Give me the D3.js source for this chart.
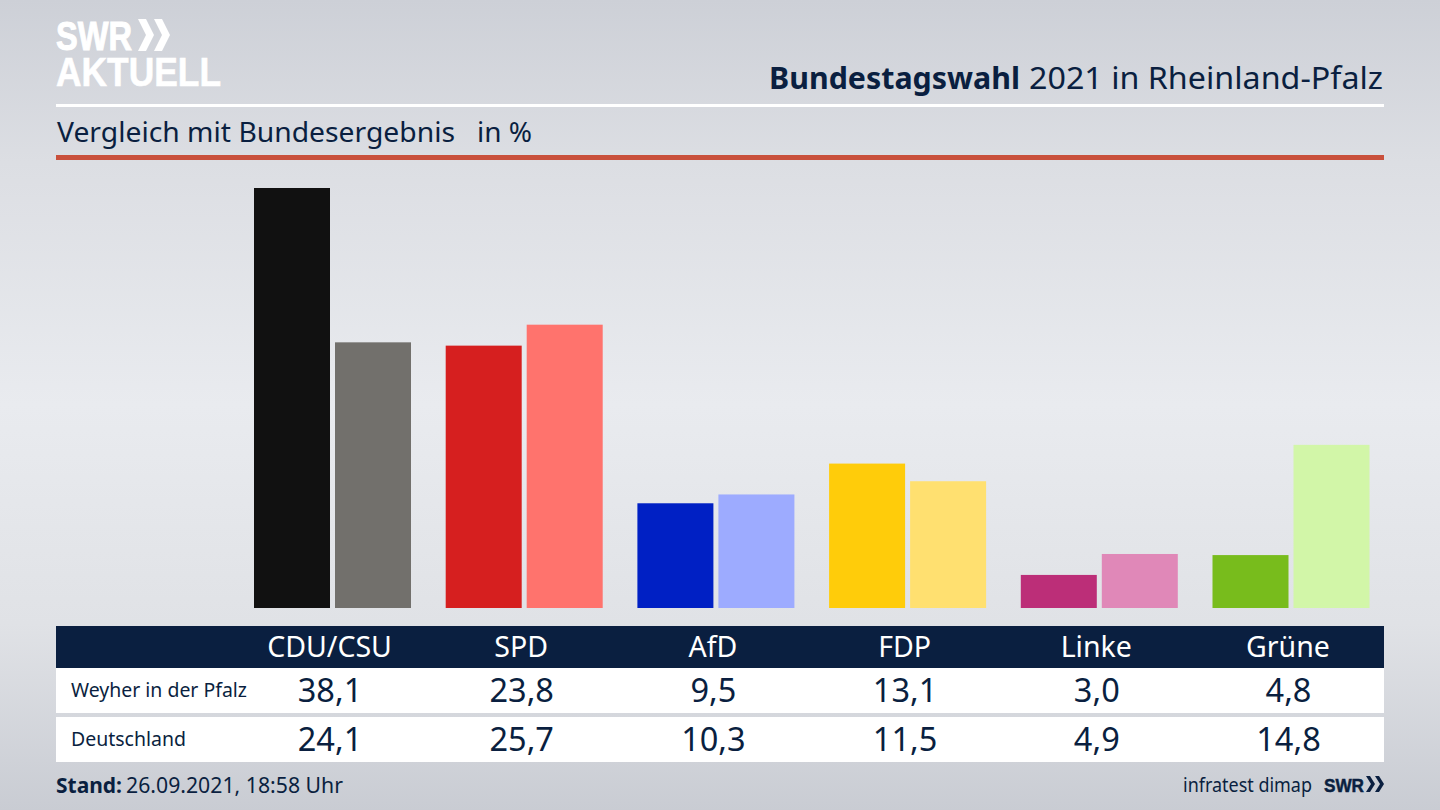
<!DOCTYPE html>
<html><head><meta charset="utf-8">
<script src="https://cdn.jsdelivr.net/npm/d3@7"></script>
<style>html,body{margin:0;padding:0;background:#d0d3da;overflow:hidden}svg{display:block}text{font-family:"Noto Sans",sans-serif}</style>
</head><body><svg id="c" width="1440" height="810"></svg>
<script>
const categories=["CDU/CSU","SPD","AfD","FDP","Linke","Grüne"];
const regionValues=[38.1,23.8,9.5,13.1,3.0,4.8];
const nationalValues=[24.1,25.7,10.3,11.5,4.9,14.8];
const regionColors=["#111111","#d61f1f","#0020c4","#ffcc0a","#bc2e78","#78bc1c"];
const nationalColors=["#72706c","#ff736d","#9dabff","#ffe070","#e088b8","#d2f6a8"];
const rowNames=["Weyher in der Pfalz","Deutschland"];
const fmt=v=>v.toFixed(1).replace(".",",");
const svg=d3.select("#c");
const ink="#0a1f40";
const defs=svg.append("defs");
const g=defs.append("linearGradient").attr("id","bg").attr("x1",0).attr("y1",0).attr("x2",0).attr("y2",1);
[[0,"#cdd0d7"],[.2,"#dcdee3"],[.5,"#e9ebef"],[.77,"#e0e2e6"],[1,"#c9ccd3"]].forEach(s=>g.append("stop").attr("offset",s[0]).attr("stop-color",s[1]));
svg.append("rect").attr("width",1440).attr("height",810).attr("fill","url(#bg)");
const label=(x,y,txt,size,col,opt={})=>{
 const e=svg.append("text").attr("x",x).attr("y",y).attr("fill",col).attr("font-size",size).text(txt);
 if(opt.anchor)e.attr("text-anchor",opt.anchor);
 if(opt.weight)e.attr("font-weight",opt.weight);
 if(opt.family)e.style("font-family",opt.family);
 if(opt.len)e.attr("textLength",opt.len).attr("lengthAdjust","spacingAndGlyphs");
 return e;
};
const chev=(x,y,h,dx,w,col)=>svg.append("path").attr("d",`M${x},${y}L${x+dx},${y}L${x+dx+w},${y+h/2}L${x+dx},${y+h}L${x},${y+h}L${x+w},${y+h/2}Z`).attr("fill",col);
// logo
label(56,50,"SWR",40,"#fff",{weight:700,family:'"Liberation Sans"',len:76}).attr("stroke","#fff").attr("stroke-width",1);
label(56,86,"AKTUELL",40,"#fff",{weight:700,family:'"Liberation Sans"',len:165}).attr("stroke","#fff").attr("stroke-width",.6);
chev(138,19,32,8,8,"#fff");chev(154,19,32,8,8,"#fff");
// title
label(769,89,"Bundestagswahl",31,ink,{weight:700,len:251});
label(1029,89,"2021 in Rheinland-Pfalz",31,ink,{len:354});
svg.append("rect").attr("x",56).attr("y",104).attr("width",1328).attr("height",3).attr("fill","#fff");
label(57,142,"Vergleich mit Bundesergebnis",28,ink,{len:398});
label(477,142,"in %",28,ink,{len:55});
svg.append("rect").attr("x",56).attr("y",155).attr("width",1328).attr("height",5).attr("fill","#c9503c");
// bars
const y=d3.scaleLinear().domain([0,38.1]).range([608,188]);
const x=d3.scaleBand().domain(categories).range([236.65,1386.85]);
const bw=76;
const cx=c=>x(c)+x.bandwidth()/2;
categories.forEach((c,i)=>{
 svg.append("rect").attr("x",cx(c)-78.5).attr("y",y(regionValues[i])).attr("width",bw).attr("height",608-y(regionValues[i])).attr("fill",regionColors[i]);
 svg.append("rect").attr("x",cx(c)+2.5).attr("y",y(nationalValues[i])).attr("width",bw).attr("height",608-y(nationalValues[i])).attr("fill",nationalColors[i]);
});
// table
svg.append("rect").attr("x",56).attr("y",626).attr("width",1328).attr("height",42).attr("fill",ink);
svg.append("rect").attr("x",56).attr("y",668).attr("width",1328).attr("height",45).attr("fill","#fff");
svg.append("rect").attr("x",56).attr("y",717).attr("width",1328).attr("height",45).attr("fill","#fff");
categories.forEach((c,i)=>{
 label(cx(c)-3,657,c,28.5,"#fff",{anchor:"middle"});
 label(cx(c)-2.5,702,fmt(regionValues[i]),32.5,ink,{anchor:"middle"});
 label(cx(c)-2.5,751,fmt(nationalValues[i]),32.5,ink,{anchor:"middle"});
});
rowNames.forEach((r,i)=>label(71,[697,746][i],r,20,ink,{len:[176,115][i]}));
// footer
label(56,793,"Stand:",22,ink,{weight:700,len:66});
label(126,793,"26.09.2021, 18:58 Uhr",22,ink,{len:217});
label(1183,792,"infratest dimap",20,ink,{len:129});
label(1324,792,"SWR",19,ink,{weight:700,family:'"Liberation Sans"',len:40}).attr("stroke",ink).attr("stroke-width",.5);
chev(1366,776,16,4,5,ink);chev(1375,776,16,4,5,ink);
</script></body></html>
